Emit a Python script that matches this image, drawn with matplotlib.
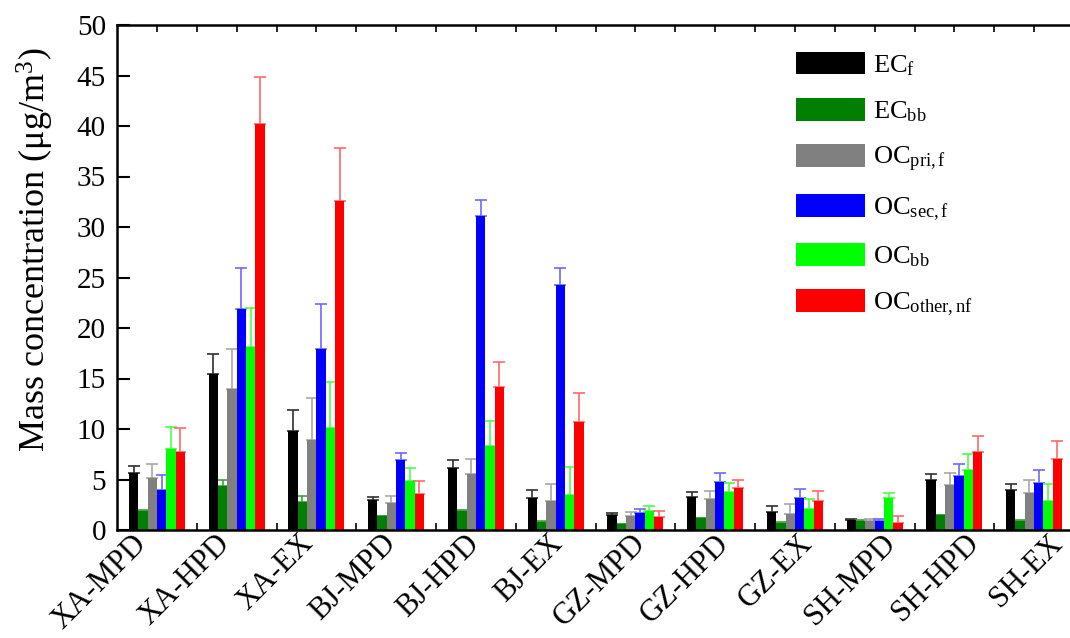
import matplotlib
matplotlib.use('Agg')
import matplotlib.pyplot as plt
from matplotlib.ticker import MultipleLocator, FixedLocator, NullFormatter
from matplotlib.transforms import ScaledTranslation
import numpy as np

plt.rcParams['font.family'] = ['Liberation Serif', 'DejaVu Serif']
plt.rcParams['mathtext.fontset'] = 'custom'
plt.rcParams['mathtext.rm'] = 'Liberation Serif'
plt.rcParams['mathtext.it'] = 'Liberation Serif:italic'

categories = ['XA-MPD', 'XA-HPD', 'XA-EX', 'BJ-MPD', 'BJ-HPD', 'BJ-EX',
              'GZ-MPD', 'GZ-HPD', 'GZ-EX', 'SH-MPD', 'SH-HPD', 'SH-EX']
series_labels = [r'EC$_\mathregular{f}$', r'EC$_\mathregular{bb}$',
                 r'OC$_\mathregular{pri,f}$', r'OC$_\mathregular{sec,f}$',
                 r'OC$_\mathregular{bb}$', r'OC$_\mathregular{other,nf}$']
series_colors = ['#000000', '#007f00', '#808080', '#0000ff', '#00ff00', '#ff0000']

EC_f = [5.66, 15.47, 9.8, 2.93, 6.09, 3.12, 1.51, 3.29, 1.81, 1.02, 4.94, 3.92]
EC_f_err = [0.65, 1.97, 2.1, 0.36, 0.8, 0.8, 0.2, 0.43, 0.56, 0.1, 0.6, 0.6]
EC_bb = [1.9, 4.34, 2.76, 1.38, 1.91, 0.82, 0.56, 1.15, 0.72, 0.92, 1.48, 0.92]
EC_bb_err = [0.1, 0.6, 0.6, 0.05, 0.1, 0.1, 0.05, 0.05, 0.05, 0.05, 0.05, 0.1]
OC_pri_f = [5.1, 13.99, 8.95, 2.63, 5.53, 2.83, 1.41, 3.03, 1.61, 0.86, 4.44, 3.65]
OC_pri_f_err = [1.45, 3.9, 4.1, 0.75, 1.48, 1.68, 0.4, 0.82, 0.92, 0.26, 1.22, 1.3]
OC_sec_f = [3.92, 21.88, 17.97, 6.91, 31.1, 24.25, 1.71, 4.77, 3.13, 0.86, 5.36, 4.61]
OC_sec_f_err = [1.5, 4.05, 4.4, 0.72, 1.58, 1.65, 0.4, 0.83, 0.88, 0.26, 1.22, 1.3]
OC_bb = [8.03, 18.1, 10.14, 4.9, 8.33, 3.42, 1.84, 3.78, 2.07, 3.13, 5.92, 2.83]
OC_bb_err = [2.2, 3.9, 4.5, 1.25, 2.47, 2.77, 0.5, 0.89, 0.96, 0.52, 1.6, 1.68]
OC_other_nf = [7.7, 40.2, 32.55, 3.55, 14.18, 10.7, 1.32, 4.11, 2.83, 0.72, 7.73, 7.0]
OC_other_nf_err = [2.35, 4.7, 5.25, 1.3, 2.5, 2.9, 0.6, 0.89, 0.99, 0.63, 1.6, 1.85]

values = [EC_f, EC_bb, OC_pri_f, OC_sec_f, OC_bb, OC_other_nf]
errors = [EC_f_err, EC_bb_err, OC_pri_f_err, OC_sec_f_err, OC_bb_err, OC_other_nf_err]
err_colors = ['#303030', '#40a040', '#a8a8a8', '#6a6aff', '#4cff4c', '#ff6a6a']

fig = plt.figure(figsize=(10.7, 6.38), dpi=100)
ax = fig.add_axes([117/1070, 108/638, (1074-117)/1070, (530-25)/638])

x = np.arange(len(categories))
n = len(values)
w = 0.117
for i, (vals, errs) in enumerate(zip(values, errors)):
    off = (i - (n - 1) / 2) * w
    ax.bar(x + off, vals, width=w, color=series_colors[i], label=series_labels[i],
           edgecolor='none', zorder=2)
    ax.errorbar(x + off, vals, yerr=[np.zeros(len(errs)), errs], fmt='none',
                ecolor=err_colors[i], elinewidth=1.2, capsize=4.2, capthick=1.2, zorder=1)

ax.set_xlim(-0.5, len(categories) - 0.5)
ax.set_ylim(0, 50)
ax.yaxis.set_major_locator(MultipleLocator(5))
ax.set_xticks(x)
ax.xaxis.set_major_formatter(NullFormatter())
ax.xaxis.set_minor_locator(FixedLocator(x[:-1] + 0.5))
# category labels, slightly drifting as in the original layout
for k, cat in enumerate(categories):
    dx_px = -25 + 3.5 * k
    tr = ax.get_xaxis_transform() + ScaledTranslation(dx_px / 100, 1 / 100, fig.dpi_scale_trans)
    ax.text(x[k], 0, cat, transform=tr, rotation=45, ha='right', va='top',
            rotation_mode='anchor', fontsize=22)
ax.tick_params(axis='y', which='major', direction='in', length=9, width=1.5, labelsize=21,
               right=False, pad=8)
ax.tick_params(axis='x', which='both', direction='in', length=5, width=1.2, top=True)
for s in ax.spines.values():
    s.set_linewidth(1.8)
ax.set_ylabel('Mass concentration (μg/m$^\\mathregular{3}$)', fontsize=26)
ax.yaxis.set_label_coords(-0.064, 0.555)

leg = ax.legend(loc='upper left', bbox_to_anchor=((797 - 117) / (1074 - 117) - 0.012, 0.968),
                frameon=False, fontsize=19, handlelength=2.6, handleheight=0.95,
                labelspacing=0.76, handletextpad=0.3, borderaxespad=0)

fig.savefig('out.png', dpi=100)
